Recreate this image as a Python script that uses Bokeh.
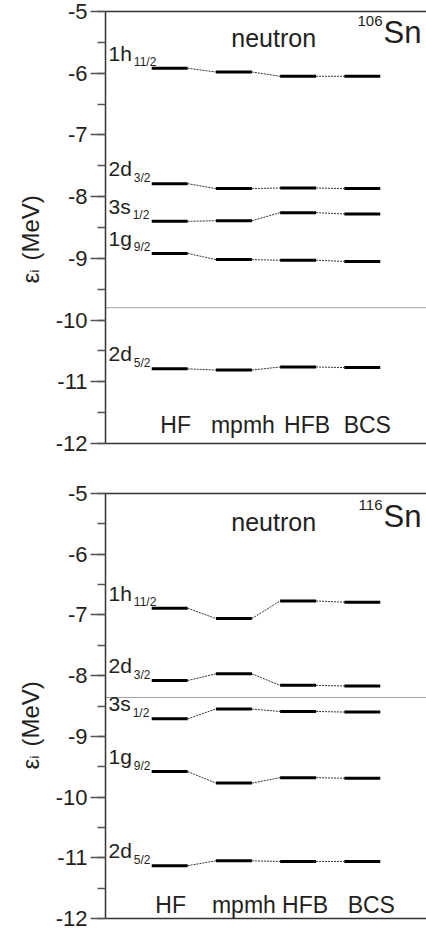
import math
from bokeh.plotting import figure
from bokeh.layouts import column, row
from bokeh.models import Range1d, SingleIntervalTicker, FixedTicker, LinearAxis, PrintfTickFormatter
from bokeh.core.properties import value
from bokeh.embed import file_html
from bokeh.resources import INLINE

# ---------------- data ----------------
methods = ["HF", "mpmh", "HFB", "BCS"]
orbital_names = ["1h", "2d", "3s", "1g", "2d"]
orbital_subs = ["11/2", "3/2", "1/2", "9/2", "5/2"]

# 106Sn neutron single-particle energies (MeV): HF, mpmh, HFB, BCS
sn106_1h11 = [-5.92, -5.98, -6.05, -6.05]
sn106_2d3 = [-7.79, -7.87, -7.86, -7.87]
sn106_3s1 = [-8.40, -8.39, -8.26, -8.28]
sn106_1g9 = [-8.92, -9.02, -9.03, -9.05]
sn106_2d5 = [-10.79, -10.81, -10.76, -10.77]
sn106_fermi = -9.80

# 116Sn neutron single-particle energies (MeV): HF, mpmh, HFB, BCS
sn116_1h11 = [-6.89, -7.06, -6.77, -6.79]
sn116_2d3 = [-8.08, -7.97, -8.16, -8.17]
sn116_3s1 = [-8.71, -8.55, -8.59, -8.60]
sn116_1g9 = [-9.58, -9.77, -9.68, -9.69]
sn116_2d5 = [-11.13, -11.05, -11.06, -11.06]
sn116_fermi = -8.36

y_min, y_max = -12, -5

FONT = "Liberation Sans"
TXT = "#231f20"
CW = {"1": 0.556, "2": 0.556, "3": 0.556, "h": 0.556, "d": 0.556, "s": 0.5, "g": 0.556}
LEFT = 55   # left border of main panel (axis + tick labels)


def ylabel_fig(height, y0):
    """Narrow figure holding the rotated y-axis title: epsilon_i (MeV)."""
    f = figure(width=50, height=height, x_range=Range1d(0, 50), y_range=Range1d(0, height),
               output_backend="svg", toolbar_location=None,
               min_border=0, outline_line_color=None)
    f.axis.visible = False
    f.grid.visible = False
    f.text([30], [y0], text=["ε"], angle=math.pi / 2, text_font=value(FONT),
           text_font_size="24px", text_color=TXT, text_align="left", text_baseline="alphabetic")
    f.text([34], [y0 + 12], text=["i"], angle=math.pi / 2, text_font=value(FONT),
           text_font_size="13px", text_color=TXT, text_align="left", text_baseline="alphabetic")
    f.text([30], [y0 + 25], text=["(MeV)"], angle=math.pi / 2, text_font=value(FONT),
           text_font_size="24px", text_color=TXT, text_align="left", text_baseline="alphabetic")
    return f


def make_panel(levels, fermi, mass, height, border_top, border_bottom, method_dx,
               method_dy, title_dy):
    p = figure(width=376, height=height, x_range=Range1d(0, 5),
               y_range=Range1d(y_min, y_max),
               output_backend="svg", toolbar_location=None,
               min_border_left=LEFT, min_border_right=0,
               min_border_top=border_top, min_border_bottom=border_bottom,
               outline_line_color=None, background_fill_color="white",
               border_fill_color="white")
    p.grid.visible = False
    # left axis
    ya = p.yaxis[0]
    ya.ticker = SingleIntervalTicker(interval=1, num_minor_ticks=2)
    ya.formatter = PrintfTickFormatter(format="%d")
    ya.axis_line_color = "#333333"
    ya.axis_line_width = 1.5
    ya.major_tick_line_color = "#555555"
    ya.major_tick_line_width = 1.5
    ya.minor_tick_line_color = "#555555"
    ya.minor_tick_line_width = 1.5
    ya.major_tick_in = 0
    ya.major_tick_out = 15
    ya.minor_tick_in = 0
    ya.minor_tick_out = 8
    ya.major_label_text_font = FONT
    ya.major_label_text_font_size = "22px"
    ya.major_label_text_color = TXT
    ya.major_label_standoff = 3
    # bottom axis (frame line only)
    xa = p.xaxis[0]
    xa.ticker = FixedTicker(ticks=[])
    xa.axis_line_color = "#333333"
    xa.axis_line_width = 1.5
    xa.major_tick_line_color = None
    xa.minor_tick_line_color = None
    xa.major_label_standoff = 0
    xa.major_label_text_font_size = "0px"
    # top frame line
    ta = LinearAxis(ticker=FixedTicker(ticks=[]), axis_line_color="#333333",
                    axis_line_width=1.5, major_tick_line_color=None,
                    minor_tick_line_color=None, major_label_standoff=0,
                    major_label_text_font_size="0px")
    p.add_layout(ta, "above")

    xs = [1, 2, 3, 4]
    hw = 0.28
    # Fermi line
    p.line([0, 5], [fermi, fermi], line_color="#444444", line_width=1, line_dash="1 1")

    bx0, bx1, by = [], [], []
    cx0, cx1, cy0, cy1 = [], [], [], []
    for lev in levels:
        for i, (x, e) in enumerate(zip(xs, lev)):
            bx0.append(x - hw); bx1.append(x + hw); by.append(e)
            if i < len(xs) - 1:
                cx0.append(x + hw); cx1.append(xs[i + 1] - hw)
                cy0.append(e); cy1.append(lev[i + 1])
    p.segment(cx0, cy0, cx1, cy1, line_color="#333333", line_width=1, line_dash="2 1")
    p.segment(bx0, by, bx1, by, line_color="black", line_width=3)

    # orbital labels
    for name, sub, lev in zip(orbital_names, orbital_subs, levels):
        fs = 21
        wmain = sum(CW.get(c, 0.556) for c in name) * fs
        p.text([0], [lev[0]], text=[name], text_font=value(FONT),
               text_font_size="21px", text_color=TXT, text_align="left",
               text_baseline="alphabetic", x_offset=3, y_offset=-15)
        p.text([0], [lev[0]], text=[sub], text_font=value(FONT),
               text_font_size="12px", text_color=TXT, text_align="left",
               text_baseline="alphabetic", x_offset=3 + wmain + 2, y_offset=-6)

    # method labels
    for x, m, dx in zip(xs, methods, method_dx):
        p.text([x], [y_min], text=[m], text_font=value(FONT),
               text_font_size="23px", text_color=TXT, text_align="center",
               text_baseline="alphabetic", x_offset=dx, y_offset=method_dy)

    # "neutron" and nucleus label
    p.text([2.62], [y_max], text=["neutron"], text_font=value(FONT),
           text_font_size="25px", text_color=TXT, text_align="center",
           text_baseline="alphabetic", y_offset=26 + title_dy)
    p.text([5], [y_max], text=["Sn"], text_font=value(FONT),
           text_font_size="31px", text_color=TXT, text_align="right",
           text_baseline="alphabetic", x_offset=-5, y_offset=21 + title_dy)
    p.text([5], [y_max], text=[mass], text_font=value(FONT),
           text_font_size="15px", text_color=TXT, text_align="right",
           text_baseline="alphabetic", x_offset=-44, y_offset=9 + title_dy)
    return p


p1 = make_panel([sn106_1h11, sn106_2d3, sn106_3s1, sn106_1g9, sn106_2d5], sn106_fermi,
                "106", 470, 11, 27, [6, 9, 9, 5], -19, 0)
p2 = make_panel([sn116_1h11, sn116_2d3, sn116_3s1, sn116_1g9, sn116_2d5], sn116_fermi,
                "116", 462, 23, 14, [1, 10, 7, 9], -14, 2)

l1 = ylabel_fig(470, 174)
l2 = ylabel_fig(462, 162)

layout = column(row(l1, p1, spacing=0), row(l2, p2, spacing=0), spacing=0)
open("out.html", "w").write(file_html(layout, INLINE))
